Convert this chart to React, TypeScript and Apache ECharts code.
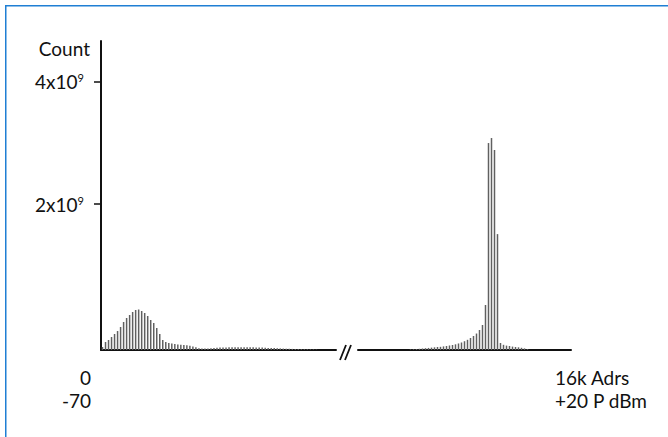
import React, { useEffect, useRef } from 'react';
import * as echarts from 'echarts';

// Counts in units of 10^9, left segment (low addresses / low power)
const LEFT_COUNTS = [
  0.049, 0.131, 0.164, 0.213, 0.262, 0.311, 0.377, 0.459, 0.525, 0.574,
  0.623, 0.656, 0.664, 0.639, 0.607, 0.557, 0.492, 0.443, 0.361, 0.262,
  0.164, 0.131, 0.115, 0.107, 0.098, 0.090, 0.087, 0.082, 0.077, 0.070,
  0.057, 0.044, 0.030, 0.023, 0.023, 0.025, 0.030, 0.034, 0.038, 0.039,
  0.041, 0.043, 0.044, 0.044, 0.046, 0.046, 0.046, 0.046, 0.046, 0.044,
  0.044, 0.043, 0.041, 0.039, 0.038, 0.034, 0.033, 0.031, 0.030, 0.026,
  0.023, 0.021, 0.020, 0.018, 0.016, 0.016, 0.015, 0.013, 0.013, 0.011,
  0.010, 0.007, 0, 0, 0, 0, 0, 0,
];

// Counts in units of 10^9, right segment (high addresses / high power)
const RIGHT_COUNTS = [
  0, 0, 0, 0, 0, 0, 0, 0, 0, 0,
  0, 0, 0, 0, 0, 0, 0, 0.010, 0.013, 0.016,
  0.020, 0.025, 0.030, 0.034, 0.039, 0.044, 0.049, 0.052, 0.059, 0.066,
  0.074, 0.082, 0.093, 0.107, 0.123, 0.144, 0.167, 0.197, 0.230, 0.270,
  0.328, 0.410, 0.738, 3.393, 3.475, 3.279, 1.900, 0.115, 0.085, 0.072,
  0.066, 0.056, 0.049, 0.044, 0.036, 0.026, 0.013, 0, 0, 0,
  0, 0, 0, 0, 0, 0, 0, 0, 0, 0,
  0,
];

const LEFT_BINS = LEFT_COUNTS.map((_, i) => `L${i}`);
const RIGHT_BINS = RIGHT_COUNTS.map((_, i) => `R${i}`);

const Y_TICK_VALUES = [2, 4];
const Y_TICK_LABELS = ['2x10', '4x10'];
const Y_TICK_EXP = '9';
const Y_NAME = 'Count';
const X_START_LABELS = ['0', '-70'];
const X_END_LABELS = ['16k Adrs', '+20 P dBm'];

const FONT = 'Lato, "Open Sans", sans-serif';
const INK = '#111111';
const BAR = '#606060';

export default function App() {
  const ref = useRef<HTMLDivElement>(null);

  useEffect(() => {
    if (!ref.current) return;
    const chart = echarts.init(ref.current, undefined, { renderer: 'svg' });

    const axisLine = { show: true, lineStyle: { color: INK, width: 2 } };
    const hidden = {
      axisLine: { show: false },
      axisTick: { show: false },
      axisLabel: { show: false },
      splitLine: { show: false },
    };

    const textStyle = { fontFamily: FONT, fontSize: 19, fill: INK };

    chart.setOption({
      animation: false,
      backgroundColor: '#ffffff',
      grid: [
        { left: 101, top: 41, width: 235, height: 309 },
        { left: 358, top: 41, width: 213, height: 309 },
      ],
      xAxis: [
        {
          type: 'category',
          gridIndex: 0,
          data: LEFT_BINS,
          boundaryGap: true,
          axisLine,
          axisTick: { show: false },
          axisLabel: { show: false },
          splitLine: { show: false },
        },
        {
          type: 'category',
          gridIndex: 1,
          data: RIGHT_BINS,
          boundaryGap: true,
          axisLine,
          axisTick: { show: false },
          axisLabel: { show: false },
          splitLine: { show: false },
        },
      ],
      yAxis: [
        {
          type: 'value',
          gridIndex: 0,
          min: 0,
          max: 5.066,
          axisLine,
          axisTick: { show: false },
          axisLabel: { show: false },
          splitLine: { show: false },
          name: Y_NAME,
          nameLocation: 'end',
          nameGap: -7,
          nameTextStyle: {
            fontFamily: FONT,
            fontSize: 19,
            color: INK,
            align: 'right',
            verticalAlign: 'middle',
            padding: [0, 11, 0, 0],
          },
        },
        {
          type: 'value',
          gridIndex: 0,
          min: -0.393,
          max: 4.672,
          position: 'left',
          axisLine: { show: false },
          splitLine: { show: false },
          axisTick: {
            show: true,
            customValues: Y_TICK_VALUES,
            length: 7,
            lineStyle: { color: INK, width: 1.5 },
          },
          axisLabel: {
            show: true,
            customValues: Y_TICK_VALUES,
            margin: 17,
            formatter: (v: number) => {
              const idx = Y_TICK_VALUES.indexOf(Math.round(v));
              return idx >= 0 ? `{b|${Y_TICK_LABELS[idx]}}{s|${Y_TICK_EXP}}` : '';
            },
            rich: {
              b: { fontFamily: FONT, fontSize: 19, color: INK },
              s: { fontFamily: FONT, fontSize: 11, color: INK, verticalAlign: 'top' },
            },
          },
        },
        {
          type: 'value',
          gridIndex: 1,
          min: 0,
          max: 5.066,
          ...hidden,
        },
      ],
      series: [
        {
          type: 'bar',
          xAxisIndex: 0,
          yAxisIndex: 0,
          data: LEFT_COUNTS,
          barWidth: 1.5,
          itemStyle: { color: BAR },
        },
        {
          type: 'bar',
          xAxisIndex: 1,
          yAxisIndex: 2,
          data: RIGHT_COUNTS,
          barWidth: 1.5,
          itemStyle: { color: BAR },
        },
      ],
      graphic: [
        {
          type: 'rect',
          shape: { x: 5.75, y: 5.75, width: 800, height: 600 },
          style: { fill: 'none', stroke: '#1f7fd4', lineWidth: 1.5 },
          silent: true,
        },
        {
          type: 'line',
          shape: { x1: 340, y1: 360, x2: 346, y2: 345 },
          style: { stroke: INK, lineWidth: 1.8 },
        },
        {
          type: 'line',
          shape: { x1: 345, y1: 360, x2: 351, y2: 345 },
          style: { stroke: INK, lineWidth: 1.8 },
        },
        ...X_START_LABELS.map((t, i) => ({
          type: 'text',
          x: 91,
          y: 377 + i * 23,
          style: { ...textStyle, text: t, align: 'right', verticalAlign: 'middle' },
        })),
        ...X_END_LABELS.map((t, i) => ({
          type: 'text',
          x: 555,
          y: 377 + i * 23,
          style: { ...textStyle, text: t, align: 'left', verticalAlign: 'middle' },
        })),
      ],
    });

    return () => chart.dispose();
  }, []);

  return (
    <div
      ref={ref}
      style={{ position: 'fixed', left: 0, top: 0, width: 668, height: 437, background: '#fff' }}
    />
  );
}
